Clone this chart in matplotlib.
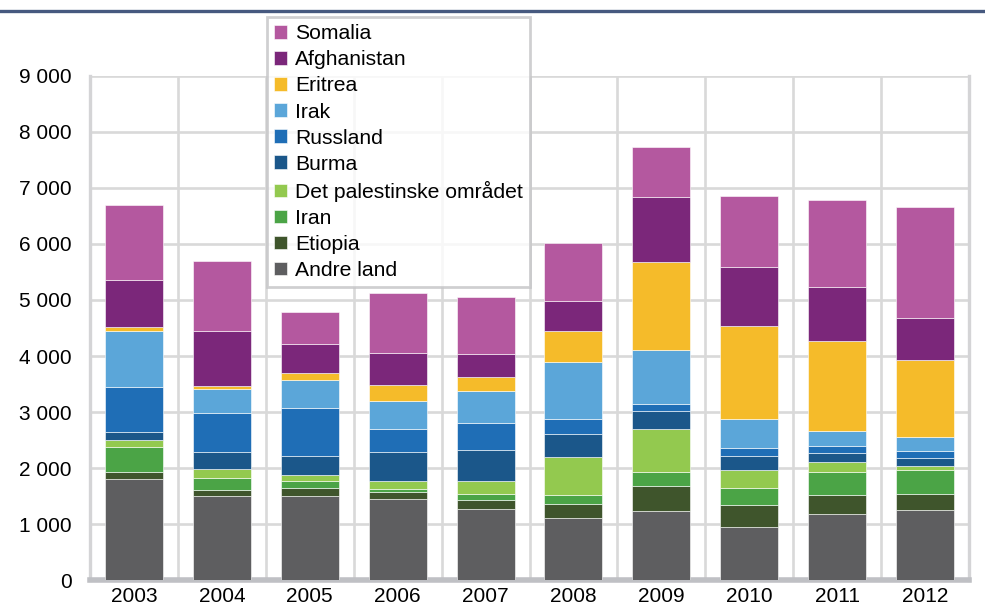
import matplotlib.pyplot as plt
from matplotlib.lines import Line2D
from matplotlib.ticker import FuncFormatter, MultipleLocator
import numpy as np

plt.rcParams['font.family'] = ['Liberation Sans', 'DejaVu Sans']

# Data
years = ['2003', '2004', '2005', '2006', '2007', '2008', '2009', '2010', '2011', '2012']
andre_land = [1800, 1500, 1500, 1450, 1265, 1100, 1235, 950, 1180, 1250]
etiopia = [120, 110, 150, 120, 170, 250, 450, 390, 345, 290]
iran = [450, 220, 125, 60, 95, 170, 235, 300, 410, 420]
palestina = [130, 160, 100, 130, 245, 680, 785, 330, 175, 70]
burma = [140, 290, 340, 530, 550, 400, 320, 250, 165, 155]
russland = [800, 710, 850, 410, 480, 275, 110, 130, 110, 125]
irak = [1000, 420, 500, 500, 570, 1010, 980, 525, 280, 250]
eritrea = [70, 60, 125, 280, 250, 570, 1570, 1660, 1605, 1375]
afghanistan = [850, 980, 520, 570, 410, 520, 1155, 1055, 960, 740]
somalia = [1340, 1250, 570, 1080, 1015, 1040, 885, 1275, 1555, 1980]

series = [
    ('Andre land', andre_land, '#5E5E60'),
    ('Etiopia', etiopia, '#3F552C'),
    ('Iran', iran, '#4BA446'),
    ('Det palestinske området', palestina, '#93C94F'),
    ('Burma', burma, '#1B578A'),
    ('Russland', russland, '#1F6EB6'),
    ('Irak', irak, '#5BA6D9'),
    ('Eritrea', eritrea, '#F5BB2A'),
    ('Afghanistan', afghanistan, '#7B277A'),
    ('Somalia', somalia, '#B4589F'),
]

fig = plt.figure(figsize=(9.85, 6.05), dpi=100)
ax = fig.add_axes([0.0914, 0.0413, 0.8924, 0.8331])

x = np.arange(len(years))
bottom = np.zeros(len(years))
handles = []
for name, vals, col in series:
    b = ax.bar(x, vals, width=0.66, bottom=bottom, color=col, label=name,
               edgecolor='white', linewidth=0.4, zorder=3)
    bottom += np.array(vals)
    handles.append(b)

ax.set_xlim(-0.5, len(years) - 0.5)
ax.set_ylim(0, 9000)
ax.yaxis.set_major_locator(MultipleLocator(1000))
ax.yaxis.set_major_formatter(FuncFormatter(lambda v, p: f'{int(v):,}'.replace(',', ' ')))
ax.set_xticks(x)
ax.set_xticklabels(years)
ax.tick_params(axis='both', length=0, labelsize=15, colors='black')
ax.tick_params(axis='y', pad=13)
ax.tick_params(axis='x', pad=5)

# grid
for v in range(1000, 9001, 1000):
    ax.axhline(v, color='#D9D9D9', lw=1.9, zorder=1)
for xv in np.arange(0.5, len(years) - 0.5, 1):
    ax.axvline(xv, color='#D9D9D9', lw=1.9, zorder=1)

for s in ['left', 'right']:
    ax.spines[s].set_color('#D4D4D6')
    ax.spines[s].set_linewidth(2.4)
ax.spines['top'].set_visible(False)
ax.spines['bottom'].set_color('#BFC0C4')
ax.spines['bottom'].set_linewidth(4)

# legend
leg = fig.legend(handles[::-1], [s[0] for s in series][::-1],
                 loc='upper left', bbox_to_anchor=(0.271, 0.972),
                 fontsize=15.2, frameon=True, fancybox=False,
                 handlelength=0.62, handleheight=0.62, handletextpad=0.35,
                 labelspacing=0.335, borderpad=0.35, borderaxespad=0)
leg.get_frame().set_edgecolor('#C4C4C6')
leg.get_frame().set_linewidth(2)

# header rule
fig.add_artist(Line2D([0, 1], [0.982, 0.982], color='#46597F', lw=2.4,
                      transform=fig.transFigure))

fig.savefig('out.png', dpi=100)
